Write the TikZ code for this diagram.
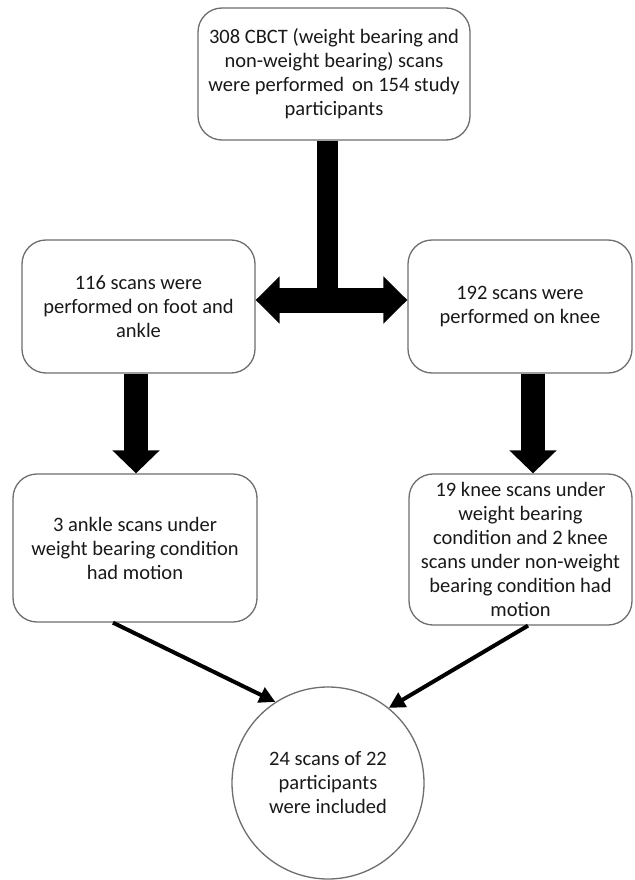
\documentclass[tikz,border=0pt]{standalone}
\usepackage{fontspec}
\setmainfont{Carlito}
\usetikzlibrary{arrows.meta}
\definecolor{boxgray}{RGB}{110,110,110}
\definecolor{textcol}{RGB}{25,25,25}
\begin{document}
\begin{tikzpicture}[x=1pt,y=-1pt,
  box/.style={draw=boxgray, line width=1.3pt, rounded corners=24pt, fill=white,
    align=center, inner sep=0pt, font=\fontsize{20.5}{24}\selectfont, text=textcol},
  roundbox/.style={draw=boxgray, line width=1.3pt, circle, fill=white,
    align=center, inner sep=0pt, font=\fontsize{20.5}{24}\selectfont, text=textcol},
  thickbar/.style={line width=21pt},
  hbar/.style={line width=25pt, {Triangle[width=46pt,length=24pt]}-{Triangle[width=46pt,length=24pt]}},
  vbar/.style={line width=24pt, -{Triangle[width=46pt,length=23pt]}},
  thin/.style={line width=4pt, -{Triangle[width=16pt,length=16pt]}}]
\useasboundingbox[fill=white] (0,0) rectangle (634,880);

\node[box, minimum width=272pt, minimum height=132pt] (top) at (334,74)
  {308 CBCT (weight bearing and\\non-weight bearing) scans\\were performed\, on 154 study\\participants};
\node[box, minimum width=233pt, minimum height=133pt] (left) at (138.5,306.5)
  {116 scans were\\performed on foot and\\ankle};
\node[box, minimum width=224pt, minimum height=133pt] (right) at (520,306.5)
  {192 scans were\\performed on knee};
\node[box, minimum width=244pt, minimum height=148pt] (bl) at (135,548)
  {3 ankle scans under\\weight bearing condition\\had motion};
\node[box, minimum width=223pt, minimum height=151pt] (br) at (520.5,549.5)
  {19 knee scans under\\weight bearing\\condition and 2 knee\\scans under non-weight\\bearing condition had\\motion};
\node[roundbox, minimum size=192pt] (circ) at (328,783)
  {24 scans of 22\\participants\\were included};

\coordinate (tj) at (327,300);
\coordinate (la) at (136,0);
\coordinate (ra) at (533,0);
\coordinate (ls) at (113,0);
\coordinate (rs) at (528,0);

\draw[thickbar] (top.south -| tj) -- (tj);
\draw[hbar] (left.east |- tj) -- (right.west |- tj);
\draw[vbar] (left.south -| la) -- (bl.north -| la);
\draw[vbar] (right.south -| ra) -- (br.north -| ra);
\draw[thin] (bl.south -| ls) -- (circ.123.5);
\draw[thin] (br.south -| rs) -- (circ.51.8);
\end{tikzpicture}
\end{document}
